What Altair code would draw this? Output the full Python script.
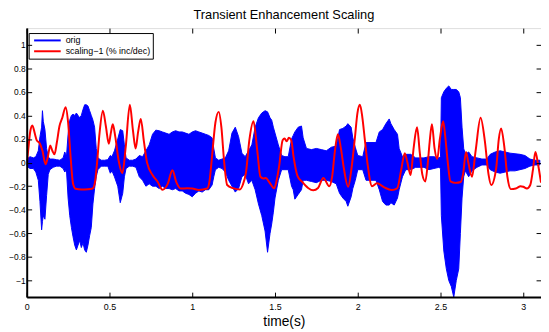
import altair as alt
import pandas as pd

# ---- blue "orig" waveform envelope ----
env_t = [0.00, 0.02, 0.04, 0.055, 0.07, 0.08, 0.09, 0.095, 0.10, 0.11, 0.12, 0.13, 0.14, 0.16, 0.18, 0.20,
         0.22, 0.23, 0.24, 0.25, 0.26, 0.27, 0.28, 0.29, 0.30, 0.31, 0.32, 0.33, 0.34, 0.35, 0.36, 0.37,
         0.38, 0.39, 0.40, 0.41, 0.42, 0.43, 0.45, 0.47, 0.49, 0.505, 0.515, 0.53, 0.55, 0.565, 0.58, 0.59,
         0.60, 0.62, 0.64, 0.66, 0.68, 0.70, 0.72, 0.74, 0.76, 0.78, 0.80, 0.82, 0.84, 0.86, 0.88, 0.90,
         0.92, 0.94, 0.96, 0.98, 1.00, 1.02, 1.04, 1.06, 1.08, 1.10, 1.12, 1.13, 1.14, 1.16, 1.18, 1.20,
         1.22, 1.24, 1.26, 1.28, 1.30, 1.32, 1.34, 1.36, 1.38, 1.40, 1.42, 1.44, 1.455, 1.47, 1.48, 1.49,
         1.50, 1.52, 1.54, 1.56, 1.58, 1.60, 1.61, 1.62, 1.64, 1.66, 1.67, 1.69, 1.72, 1.75, 1.78, 1.81,
         1.84, 1.87, 1.89, 1.91, 1.93, 1.94, 1.96, 1.97, 1.985, 2.00, 2.03, 2.05, 2.08, 2.11, 2.13, 2.15,
         2.17, 2.19, 2.20, 2.22, 2.24, 2.25, 2.27, 2.29, 2.32, 2.35, 2.40, 2.43, 2.46, 2.49, 2.50, 2.505,
         2.52, 2.535, 2.55, 2.565, 2.58, 2.595, 2.61, 2.62, 2.63, 2.64, 2.65, 2.67, 2.69, 2.72, 2.75, 2.78,
         2.80, 2.83, 2.86, 2.89, 2.92, 2.95, 2.98, 3.01, 3.04, 3.07, 3.10]
env_hi = [0.03, 0.05, 0.04, 0.05, 0.10, 0.22, 0.30, 0.44, 0.35, 0.28, 0.12, 0.05, 0.03, 0.03, 0.025, 0.02,
          0.04, 0.09, 0.05, 0.24, 0.36, 0.40, 0.41, 0.40, 0.42, 0.40, 0.38, 0.40, 0.45, 0.49, 0.49, 0.48,
          0.44, 0.40, 0.36, 0.30, 0.12, 0.04, 0.02, 0.02, 0.025, 0.06, 0.05, 0.10, 0.20, 0.28, 0.27, 0.15,
          0.04, 0.02, 0.02, 0.03, 0.06, 0.05, 0.10, 0.15, 0.24, 0.275, 0.27, 0.26, 0.25, 0.24, 0.26, 0.27,
          0.26, 0.26, 0.25, 0.24, 0.26, 0.27, 0.26, 0.25, 0.24, 0.23, 0.21, 0.12, 0.04, 0.02, 0.03, 0.04,
          0.10, 0.25, 0.30, 0.22, 0.08, 0.05, 0.10, 0.15, 0.30, 0.38, 0.42, 0.44, 0.43, 0.38, 0.36, 0.30,
          0.25, 0.15, 0.06, 0.05, 0.05, 0.20, 0.23, 0.26, 0.30, 0.31, 0.21, 0.12, 0.11, 0.12, 0.11, 0.10,
          0.13, 0.14, 0.28, 0.29, 0.31, 0.33, 0.30, 0.21, 0.13, 0.06, 0.05, 0.17, 0.17, 0.17, 0.26, 0.28,
          0.33, 0.37, 0.33, 0.28, 0.24, 0.12, 0.05, 0.07, 0.07, 0.04, 0.04, 0.05, 0.05, 0.04, 0.05, 0.55,
          0.60, 0.63, 0.65, 0.62, 0.62, 0.62, 0.60, 0.55, 0.30, 0.12, 0.07, 0.09, 0.05, 0.04, 0.03, 0.03,
          0.07, 0.09, 0.10, 0.09, 0.08, 0.075, 0.07, 0.06, 0.03, 0.02, 0.02]
env_lo = [-0.03, -0.05, -0.05, -0.08, -0.15, -0.33, -0.57, -0.50, -0.45, -0.48, -0.28, -0.10, -0.06, -0.04, -0.03, -0.03,
          -0.05, -0.08, -0.06, -0.30, -0.45, -0.55, -0.63, -0.70, -0.74, -0.70, -0.66, -0.72, -0.68, -0.74, -0.76, -0.70,
          -0.62, -0.55, -0.35, -0.22, -0.12, -0.06, -0.03, -0.03, -0.03, -0.09, -0.07, -0.12, -0.20, -0.34, -0.26, -0.12,
          -0.05, -0.03, -0.03, -0.04, -0.12, -0.15, -0.20, -0.18, -0.20, -0.20, -0.22, -0.20, -0.22, -0.22, -0.23, -0.22,
          -0.24, -0.24, -0.26, -0.27, -0.29, -0.26, -0.24, -0.25, -0.23, -0.23, -0.19, -0.12, -0.06, -0.04, -0.05, -0.08,
          -0.15, -0.20, -0.25, -0.22, -0.12, -0.10, -0.18, -0.15, -0.23, -0.35, -0.45, -0.58, -0.76, -0.60, -0.52, -0.42,
          -0.30, -0.15, -0.06, -0.06, -0.06, -0.20, -0.23, -0.31, -0.27, -0.23, -0.15, -0.15, -0.16, -0.17, -0.15, -0.15,
          -0.16, -0.18, -0.26, -0.30, -0.33, -0.37, -0.29, -0.22, -0.15, -0.06, -0.06, -0.15, -0.15, -0.15, -0.23, -0.33,
          -0.36, -0.36, -0.34, -0.36, -0.30, -0.23, -0.12, -0.06, -0.06, -0.04, -0.04, -0.06, -0.05, -0.04, -0.05, -0.45,
          -0.75, -0.90, -1.00, -1.05, -1.14, -1.00, -0.90, -0.60, -0.30, -0.12, -0.07, -0.12, -0.07, -0.04, -0.02, -0.02,
          -0.06, -0.08, -0.09, -0.08, -0.07, -0.07, -0.06, -0.05, -0.03, -0.02, -0.02]

# ---- red "scaling-1" curve ----
red_t = [0.000, 0.010, 0.022, 0.034, 0.050, 0.060, 0.080, 0.095, 0.114, 0.128, 0.142, 0.155, 0.168, 0.182, 0.198,
         0.215, 0.235, 0.250, 0.264, 0.280, 0.295, 0.330, 0.370, 0.398, 0.412, 0.425, 0.440, 0.460, 0.478, 0.496,
         0.508, 0.520, 0.535, 0.555, 0.578, 0.598, 0.623, 0.642, 0.658, 0.673, 0.689, 0.708, 0.727, 0.760, 0.790,
         0.820, 0.852, 0.880, 0.905, 0.930, 0.970, 1.000, 1.040, 1.090, 1.105, 1.120, 1.140, 1.160, 1.176, 1.192,
         1.211, 1.246, 1.288, 1.305, 1.325, 1.345, 1.370, 1.393, 1.412, 1.430, 1.445, 1.465, 1.495, 1.510, 1.525,
         1.546, 1.558, 1.570, 1.584, 1.598, 1.612, 1.635, 1.662, 1.700, 1.731, 1.760, 1.792, 1.828, 1.845, 1.862,
         1.880, 1.898, 1.915, 1.942, 1.962, 1.982, 1.998, 2.013, 2.028, 2.043, 2.060, 2.086, 2.116, 2.160, 2.205,
         2.238, 2.262, 2.284, 2.300, 2.319, 2.338, 2.358, 2.375, 2.390, 2.408, 2.422, 2.434, 2.448, 2.464, 2.480,
         2.496, 2.516, 2.530, 2.544, 2.560, 2.590, 2.622, 2.636, 2.654, 2.668, 2.690, 2.712, 2.742, 2.768, 2.790,
         2.806, 2.836, 2.852, 2.866, 2.884, 2.904, 2.925, 2.955, 2.984, 3.000, 3.022, 3.042, 3.058, 3.073, 3.090,
         3.107]
red_v = [-0.02, 0.12, 0.27, 0.315, 0.24, 0.19, 0.16, 0.10, -0.015, 0.05, 0.145, 0.10, 0.07, 0.17, 0.31,
         0.38, 0.47, 0.34, 0.07, -0.18, -0.222, -0.228, -0.226, -0.22, -0.17, 0.0, 0.25, 0.44, 0.31, 0.16,
         0.25, 0.325, 0.22, 0.02, -0.09, 0.13, 0.49, 0.27, 0.12, 0.26, 0.37, 0.18, 0.0, -0.105, -0.16,
         -0.23, -0.18, -0.065, -0.17, -0.22, -0.218, -0.22, -0.232, -0.22, -0.15, 0.06, 0.34, 0.43, 0.30, 0.02,
         -0.19, -0.217, -0.228, -0.19, -0.08, 0.19, 0.35, 0.10, -0.12, -0.135, -0.13, -0.165, -0.218, -0.15, -0.03,
         0.19, 0.205, 0.18, 0.21, 0.19, 0.05, -0.11, -0.16, -0.215, -0.235, -0.215, -0.13, -0.20, -0.12, 0.10,
         0.24, 0.12, -0.04, -0.205, -0.05, 0.20, 0.42, 0.49, 0.38, 0.19, -0.02, -0.20, -0.175, -0.21, -0.232,
         -0.218, -0.065, 0.08, 0.0, -0.105, 0.13, 0.30, 0.08, -0.10, -0.16, -0.02, 0.17, 0.325, 0.12, 0.03,
         0.20, 0.35, 0.20, 0.0, -0.16, -0.172, -0.165, -0.10, 0.09, 0.0, -0.12, 0.10, 0.38, 0.18, -0.10,
         -0.19, -0.05, 0.20, 0.29, 0.15, -0.12, -0.225, -0.22, -0.20, -0.205, -0.22, -0.19, -0.064, 0.09, -0.02,
         -0.17]

x_ticks = [0, 0.5, 1, 1.5, 2, 2.5, 3]
y_ticks = [-1, -0.8, -0.6, -0.4, -0.2, 0, 0.2, 0.4, 0.6, 0.8, 1]
series_names = ["orig", "scaling\u22121 (% inc/dec)"]
series_colors = ["#0000ff", "#ff0000"]

W, H = 522, 273
XMAX = 3.107
YLIM = 1.14
FONT = "Liberation Sans"

orig_df = pd.DataFrame({"t": env_t, "hi": env_hi, "lo": env_lo, "series": series_names[0]})
red_df = pd.DataFrame({"t": red_t, "v": red_v, "series": series_names[1]})

xscale = alt.Scale(domain=[0, XMAX], nice=False, zero=False)
yscale = alt.Scale(domain=[-YLIM, YLIM], nice=False, zero=False)
stroke_scale = alt.Scale(domain=series_names, range=series_colors)

legend = alt.Legend(
    title=None, orient="none", legendX=2, legendY=5, direction="vertical",
    symbolType="M-3,0H3", symbolSize=81, symbolStrokeWidth=2, symbolOffset=11.5,
    labelOffset=13, padding=2, rowPadding=0, fillColor="white", strokeColor="black",
    labelFontSize=9, labelColor="black", labelFont=FONT, labelLimit=0,
)

ax_x_labels = alt.Axis(
    orient="bottom", values=x_ticks, format="~g", ticks=False, domain=True,
    domainColor="black", domainWidth=2, labelPadding=6, labelFontSize=9, labelColor="black",
    labelFont=FONT, labelFlush=False, labelOverlap=False, grid=False, zindex=1,
    title="time(s)", titleFontSize=14, titleFontWeight="normal", titleColor="black",
    titleFont=FONT, titlePadding=3,
)
ax_y_labels = alt.Axis(
    orient="left", values=y_ticks, format="~g", ticks=False, domain=True,
    domainColor="black", domainWidth=2, labelPadding=1.5, labelFontSize=8.5, labelColor="black",
    labelFont=FONT, labelFlush=False, labelOverlap=False, grid=False, zindex=1, title=None,
)


def tick_axis(orient, offset, values):
    return alt.Axis(orient=orient, offset=offset, values=values, labels=False, domain=False,
                    ticks=True, tickSize=5, tickColor="black", tickWidth=1, grid=False,
                    title=None, zindex=1)


area = alt.Chart(orig_df).mark_area(fill="#0000ff", opacity=1, strokeWidth=1, clip=True).encode(
    x=alt.X("t:Q", scale=xscale, axis=ax_x_labels),
    y=alt.Y("hi:Q", scale=yscale, axis=ax_y_labels),
    y2="lo:Q",
    stroke=alt.Stroke("series:N", scale=stroke_scale, legend=legend),
)

line = alt.Chart(red_df).mark_line(strokeWidth=2, interpolate="monotone", clip=True).encode(
    x=alt.X("t:Q", scale=xscale, axis=tick_axis("top", -H, x_ticks)),
    y=alt.Y("v:Q", scale=yscale, axis=tick_axis("right", -W, y_ticks)),
    stroke=alt.Stroke("series:N", scale=stroke_scale, legend=legend),
)

ticks = alt.Chart(red_df).mark_line(opacity=0).encode(
    x=alt.X("t:Q", scale=xscale, axis=tick_axis("bottom", -H, x_ticks)),
    y=alt.Y("v:Q", scale=yscale, axis=tick_axis("left", -W, y_ticks)),
)

chart = (
    alt.layer(area, line, ticks)
    .resolve_axis(x="independent", y="independent")
    .properties(
        width=W, height=H,
        title=alt.TitleParams("Transient Enhancement Scaling", fontSize=13, fontWeight="normal",
                              color="black", font=FONT, offset=5.5, anchor="middle"),
        padding={"left": 19, "top": 18, "right": 0, "bottom": 31},
        autosize=alt.AutoSizeParams(type="none"),
    )
    .configure_view(stroke="black", strokeWidth=1)
    .configure(font=FONT)
)

chart.save("out.html", embed_options={"renderer": "svg", "actions": False})
